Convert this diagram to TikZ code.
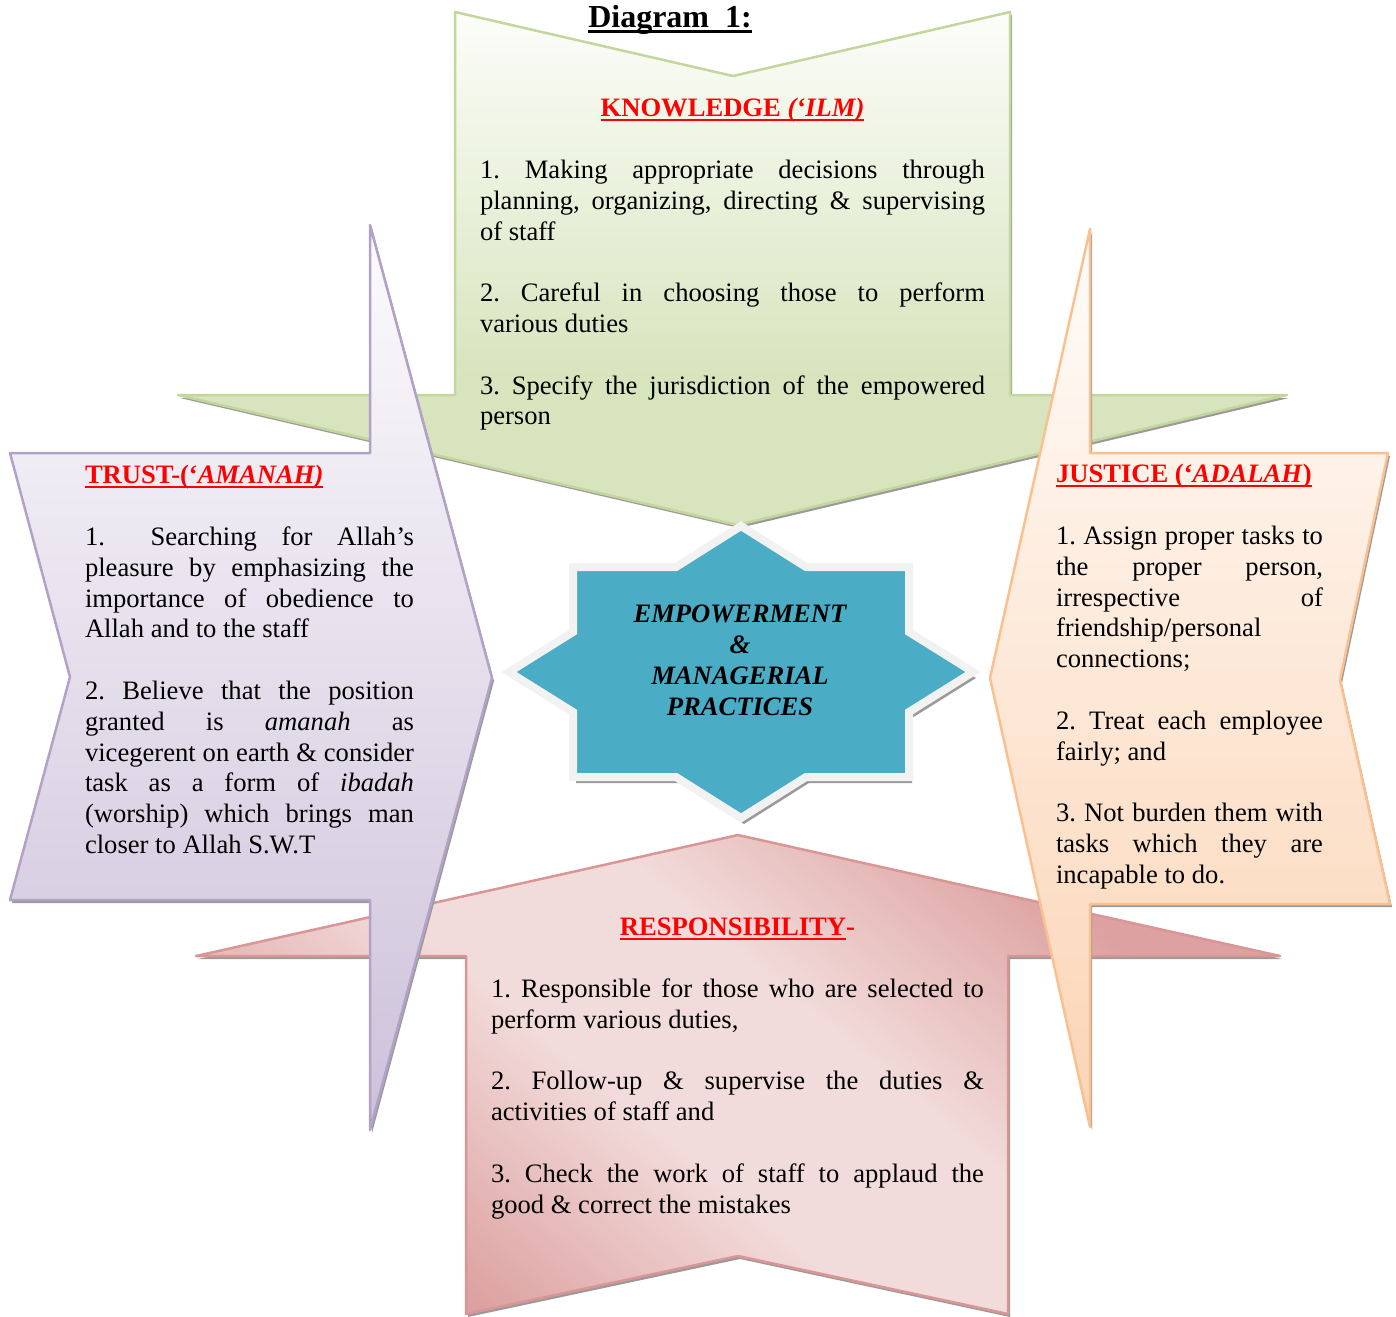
\documentclass[tikz,border=0pt]{standalone}
\usepackage{fontspec}
\setmainfont{Liberation Serif}
\definecolor{gB}{HTML}{D7E4BD}
\definecolor{gT}{HTML}{FCFDF9}
\definecolor{gL}{HTML}{C3D69B}
\definecolor{pB}{HTML}{CCC1DA}
\definecolor{pT}{HTML}{FCFBFD}
\definecolor{pL}{HTML}{B3A2C7}
\definecolor{oB}{HTML}{FBD4B4}
\definecolor{oT}{HTML}{FFFCFA}
\definecolor{oL}{HTML}{FAC090}
\definecolor{rD}{HTML}{DCA1A0}
\definecolor{rM}{HTML}{F2DCDB}
\definecolor{rL}{HTML}{D99694}
\definecolor{starF}{HTML}{4BACC6}
\definecolor{starB}{HTML}{F2F2F2}
\definecolor{titleRed}{HTML}{FF0000}
\definecolor{shadowc}{HTML}{9A9A9A}
\pgfdeclareverticalshading{greensh}{100bp}{color(0bp)=(gB); color(39bp)=(gB); color(75bp)=(gT); color(100bp)=(gT)}
\pgfdeclareverticalshading{purpsh}{100bp}{color(0bp)=(pB); color(25bp)=(pB); color(75bp)=(pT); color(100bp)=(pT)}
\pgfdeclareverticalshading{orsh}{100bp}{color(0bp)=(oB); color(25bp)=(oB); color(75bp)=(oT); color(100bp)=(oT)}
\pgfdeclareverticalshading{redsh}{100bp}{color(0bp)=(rD); color(27bp)=(rD); color(44bp)=(rM); color(56bp)=(rM); color(73bp)=(rD); color(100bp)=(rD)}
\newcommand\bodyfont{\fontsize{26.6pt}{30.8pt}\selectfont}
\newcommand\myJ[1]{\hbox to\hsize{\strut#1}}
\newcommand\myL[1]{\hbox{\strut#1}}
\newcommand\myC[1]{\hbox to\hsize{\hfil\strut#1\hfil}}
\newcommand\myB{\hbox{\strut}}
\newcommand\myULg[3]{\setbox0\hbox{#3}\rlap{\rule[-#1]{\wd0}{#2}}\box0}
\newcommand\myUL[1]{\myULg{4pt}{2.2pt}{#1}}
\def\pathG{(455,12) -- (733,76) -- (1010,12) -- (1010,395) -- (1287,395) -- (737,525) -- (178,395) -- (455,395) -- cycle}
\def\pathR{(738,835) -- (1280,956) -- (1008,956) -- (1008,1314) -- (738,1256) -- (466,1314) -- (466,956) -- (196,956) -- cycle}
\def\pathP{(10,453) -- (370,453) -- (370,225) -- (492,678) -- (370,1130) -- (370,900) -- (10,900) -- (70,677) -- cycle}
\def\pathO{(1388,453) -- (1090,453) -- (1090,229) -- (990,678) -- (1090,1127) -- (1090,904) -- (1390,904) -- (1340,680) -- cycle}
\def\pathS{(741,526) -- (806,567) -- (909,567) -- (909,632) -- (973,672) -- (909,712) -- (909,777) -- (806,777) -- (741,818) -- (676,777) -- (573,777) -- (573,712) -- (509,672) -- (573,632) -- (573,567) -- (676,567) -- cycle}
\tikzset{
  shp/.style={line width=2.5pt, line join=round},
  shd/.style={fill=shadowc, shift={(2,3)}},
  txt/.style={anchor=north west, inner sep=0pt, outer sep=0pt}
}
\begin{document}
\begin{tikzpicture}[x=1pt,y=-1pt]
\useasboundingbox (0,0) rectangle (1396,1316);
% knowledge (green)
\fill[shd] \pathG;
\draw[shp, draw=gL, shading=greensh] \pathG;
% responsibility (red)
\fill[shd] \pathR;
\draw[shp, draw=rL, shading=redsh, shading angle=-40] \pathR;
% trust (purple)
\fill[shd] \pathP;
\draw[shp, draw=pL, shading=purpsh] \pathP;
% justice (orange)
\fill[shd] \pathO;
\draw[shp, draw=oL, shading=orsh] \pathO;
% centre star
\fill[fill=shadowc, shift={(3,6)}] \pathS;
\draw[line width=8pt, line join=miter, draw=starB, fill=starF] \pathS;

\node[anchor=base, inner sep=0pt] (title) at (670,28)
  {\fontsize{32pt}{38pt}\selectfont\bfseries\myULg{5pt}{3pt}{Diagram\ \ 1:}};

\node[txt] (know) at (480,95.4) {\vbox{\hsize=505pt\bodyfont\frenchspacing
  \myC{\color{titleRed}\bfseries\myUL{KNOWLEDGE \textit{(‘ILM)}}}
  \myB
  \myJ{1. Making appropriate decisions through}
  \myJ{planning, organizing, directing \& supervising}
  \myL{of staff}
  \myB
  \myJ{2. Careful in choosing those to perform}
  \myL{various duties}
  \myB
  \myJ{3. Specify the jurisdiction of the empowered}
  \myL{person}}};

\node[txt] (trust) at (85,462.4) {\vbox{\hsize=329pt\bodyfont\frenchspacing
  \myL{\color{titleRed}\bfseries\myUL{TRUST-(‘\textit{AMANAH)}}}
  \myB
  \myJ{1.\hspace{21pt} Searching for Allah’s}
  \myJ{pleasure by emphasizing the}
  \myJ{importance of obedience to}
  \myL{Allah and to the staff}
  \myB
  \myJ{2. Believe that the position}
  \myJ{granted is \textit{amanah} as}
  \myJ{vicegerent on earth \& consider}
  \myJ{task as a form of \textit{ibadah}}
  \myJ{(worship) which brings man}
  \myL{closer to Allah S.W.T}}};

\node[txt] (justice) at (1056,461.4) {\vbox{\hsize=267pt\bodyfont\frenchspacing
  \myL{\color{titleRed}\bfseries\myUL{JUSTICE (‘\textit{ADALAH})}}
  \myB
  \myJ{1. Assign proper tasks to}
  \myJ{the proper person,}
  \myJ{irrespective of}
  \myL{friendship/personal}
  \myL{connections;}
  \myB
  \myJ{2. Treat each employee}
  \myL{fairly; and}
  \myB
  \myJ{3. Not burden them with}
  \myJ{tasks which they are}
  \myL{incapable to do.}}};

\node[txt] (resp) at (491,914.4) {\vbox{\hsize=493pt\bodyfont\frenchspacing
  \myC{\color{titleRed}\bfseries\myUL{RESPONSIBILITY}-}
  \myB
  \myJ{1. Responsible for those who are selected to}
  \myL{perform various duties,}
  \myB
  \myJ{2. Follow-up \& supervise the duties \&}
  \myL{activities of staff and}
  \myB
  \myJ{3. Check the work of staff to applaud the}
  \myL{good \& correct the mistakes}}};

\node[txt] (centre) at (590,601.4) {\vbox{\hsize=300pt\bodyfont\bfseries\itshape
  \myC{EMPOWERMENT}
  \myC{\&}
  \myC{MANAGERIAL}
  \myC{PRACTICES}}};
\end{tikzpicture}
\end{document}
